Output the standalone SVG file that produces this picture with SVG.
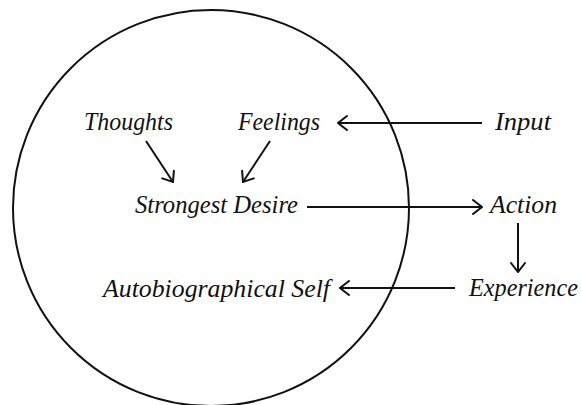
<svg xmlns="http://www.w3.org/2000/svg" width="581" height="405" viewBox="0 0 581 405">
<defs>
<style>
.t{font-family:'Liberation Serif','Times New Roman',serif;font-style:italic;font-size:24.5px;fill:#111}
.c{fill:none;stroke:#111;stroke-width:2}
</style>
<marker id="ah" viewBox="0 0 12 16" refX="11" refY="8" markerWidth="12" markerHeight="16" markerUnits="userSpaceOnUse" orient="auto">
<path d="M2,1 L11,8 L2,15" fill="none" stroke="#111" stroke-width="2" stroke-linecap="round" stroke-linejoin="miter"/>
</marker>
</defs>
<rect width="581" height="405" fill="#fff"/>
<g id="self-circle"><circle cx="211" cy="208" r="198" class="c"/></g>
<g id="connectors">
<line class="c" x1="482" y1="123" x2="338" y2="123" marker-end="url(#ah)"/>
<line class="c" x1="307" y1="207" x2="482" y2="207" marker-end="url(#ah)"/>
<line class="c" x1="518" y1="223" x2="518" y2="272" marker-end="url(#ah)"/>
<line class="c" x1="455" y1="288" x2="340" y2="288" marker-end="url(#ah)"/>
<line class="c" x1="146" y1="141" x2="173" y2="182" marker-end="url(#ah)"/>
<line class="c" x1="270" y1="141" x2="243" y2="182" marker-end="url(#ah)"/>
</g>
<g id="thoughts"><text class="t" x="84" y="130" textLength="89" lengthAdjust="spacingAndGlyphs">Thoughts</text></g>
<g id="feelings"><text class="t" x="238" y="130" textLength="82" lengthAdjust="spacingAndGlyphs">Feelings</text></g>
<g id="input"><text class="t" x="495" y="130" textLength="56" lengthAdjust="spacingAndGlyphs">Input</text></g>
<g id="strongest-desire"><text class="t" x="135" y="213" textLength="163" lengthAdjust="spacingAndGlyphs">Strongest Desire</text></g>
<g id="action"><text class="t" x="490" y="213" textLength="67" lengthAdjust="spacingAndGlyphs">Action</text></g>
<g id="autobiographical-self"><text class="t" x="103" y="297" textLength="227" lengthAdjust="spacingAndGlyphs">Autobiographical Self</text></g>
<g id="experience"><text class="t" x="469" y="296" textLength="109" lengthAdjust="spacingAndGlyphs">Experience</text></g>
</svg>
